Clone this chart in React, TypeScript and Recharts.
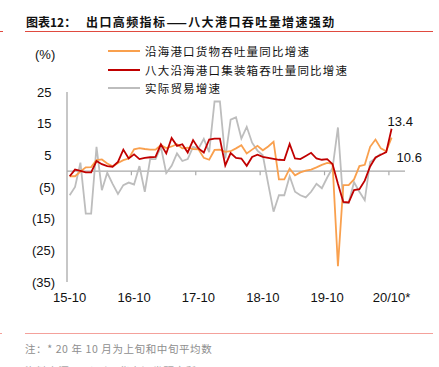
import React from 'react';
import { LineChart, Line, XAxis, YAxis, ReferenceLine, LabelList } from 'recharts';

const W = 439;
const H = 367;

// monthly, 2015-10 … 2020-10
const portCargo = [
  -1.6, -1.6, -0.1, 1.2, 1.3, 3.5, 3.7, 2.4, 1.5, 2.6, 3.5, 4.0,
  6.9, 7.3, 7.0, 6.8, 6.8, 8.2, 7.3, 7.8, 8.5, 7.2, 7.4, 7.0,
  6.9, 4.2, 3.6, 6.7, 6.8, 6.1, 6.3, 7.2, 8.2, 5.6, 6.8, 8.0,
  6.6, 7.8, 9.3, -2.6, -2.6, 0.8, -1.3, -0.4, 0.2, 0.5, 1.2, 2.0,
  2.6, 2.3, -30.0, -4.4, -4.4, -2.6, 1.6, 2.0, 7.7, 10.0, 7.2, 6.3,
  10.6,
];
const container8 = [
  -1.6, 0.5, 0.1, -0.4, -0.4, 3.2, 2.2, 1.6, 1.4, 2.9, 6.8, 4.0,
  5.3, 3.8, 4.2, 4.4, 4.5, 8.5, 5.6, 10.5, 8.0, 8.5, 5.9, 9.8,
  7.2, 5.9, 10.0, 10.3, 10.3, 1.8, 5.7, 4.2, 4.0, 1.7, 4.5, 5.2,
  4.5, 4.2, 3.9, 3.6, 3.5, 8.6, 4.0, 3.8, 4.8, 5.8, 4.0, 3.6,
  3.8, 2.2, -4.0, -9.7, -9.9, -6.0, -5.7, -3.0, 1.5, 4.3, 5.2, 6.0,
  13.4,
];
const realTrade: (number | null)[] = [
  -7.6, -5.0, 2.7, -13.4, -13.4, 7.7, -6.0, -0.5, -4.0, -7.2, -4.4, -3.6,
  -4.2, 1.6, -6.5, 3.8, 3.8, 7.7, -0.6, 1.7, 5.6, 3.2, 3.8, 7.7,
  7.1, 10.2, 6.0, 22.0, 22.0, 4.0, 16.3, 17.0, 10.3, 14.0, 9.0, 6.5,
  5.0, -4.0, -12.8, -7.6, -7.6, -1.6, -6.5, -7.6, -8.3, -6.5, -4.0, -5.4,
  -2.0, 1.0, 13.8, -10.0, -10.0, -3.5, -6.5, -9.2, 2.9, 4.1, 5.5, null,
  null,
];

const xTickValues = [0, 12, 24, 36, 48, 60];
const xTickLabels = ['15-10', '16-10', '17-10', '18-10', '19-10', '20/10*'];
const xTickMarks = [11.5, 23.5, 35.5, 47.5, 59.5];
const yTicks = [-35, -25, -15, -5, 5, 15, 25];

const seriesNames = {
  portCargo: '沿海港口货物吞吐量同比增速',
  container8: '八大沿海港口集装箱吞吐量同比增速',
  realTrade: '实际贸易增速',
};
const colors = { portCargo: '#F9A04E', container8: '#C00000', realTrade: '#BDBDBD' };

const data = portCargo.map((v, i) => ({
  i,
  portCargo: v,
  container8: container8[i],
  realTrade: realTrade[i],
}));
const lastIdx = data.length - 1;

const LAT = '"Liberation Sans", Arial, sans-serif';
const CJK = '"Noto Sans CJK SC", "Noto Sans", sans-serif';

const XTick = (props: any) => {
  const { x, y, payload } = props;
  const idx = xTickValues.indexOf(payload.value);
  return (
    <text x={x} y={y} dy={12} textAnchor="middle" fontSize={13} fontFamily={LAT} fill="#111">
      {xTickLabels[idx]}
    </text>
  );
};

const fmtY = (v: number) => (v < 0 ? `(${Math.abs(v)})` : `${v}`);

const YTick = (props: any) => {
  const { x, y, payload } = props;
  const v = payload.value as number;
  return (
    <text x={v < 0 ? x - 4 : x - 7.5} y={y} dy={4.5} textAnchor="end" fontSize={13} fontFamily={LAT} fill="#111">
      {fmtY(v)}
    </text>
  );
};

const endLabel = (dx: number, dy: number) => (p: any) => {
  if (p.index !== lastIdx) return null;
  return (
    <text x={p.x + dx} y={p.y + dy} fontSize={13} fontFamily={LAT} fill="#111" textAnchor="start">
      {Number(p.value).toFixed(1)}
    </text>
  );
};

const legendRows: { key: keyof typeof seriesNames; top: number }[] = [
  { key: 'portCargo', top: 50.7 },
  { key: 'container8', top: 69.5 },
  { key: 'realTrade', top: 88.3 },
];

export default function App() {
  return (
    <div style={{ position: 'absolute', left: 0, top: 0, width: W, height: H, background: '#fff', overflow: 'hidden' }}>
      {/* title */}
      <div style={{ position: 'absolute', left: 26, top: 14, fontFamily: CJK, fontSize: 12, fontWeight: 700, color: '#111', lineHeight: '16px', whiteSpace: 'nowrap' }}>
        图表12：
      </div>
      <div style={{ position: 'absolute', left: 86, top: 14, fontFamily: CJK, fontSize: 12, fontWeight: 700, color: '#111', lineHeight: '16px', letterSpacing: 1.4, whiteSpace: 'nowrap' }}>
        出口高频指标——八大港口吞吐量增速强劲
      </div>
      <div style={{ position: 'absolute', left: 25, top: 31, width: 408, height: 1, background: '#E04A3F' }} />
      <div style={{ position: 'absolute', left: 0, top: 31, width: 3, height: 1, background: '#E04A3F' }} />

      {/* unit */}
      <div style={{ position: 'absolute', left: 35, top: 47, fontFamily: LAT, fontSize: 13, color: '#111', lineHeight: '16px' }}>(%)</div>

      {/* legend */}
      {legendRows.map((r) => (
        <React.Fragment key={r.key}>
          <div style={{ position: 'absolute', left: 108, top: r.top - 1, width: 32, height: 2, background: colors[r.key] }} />
          <div style={{ position: 'absolute', left: 145, top: r.top - 8, fontFamily: CJK, fontSize: 11.5, letterSpacing: 1.2, color: '#111', lineHeight: '16px', whiteSpace: 'nowrap' }}>
            {seriesNames[r.key]}
          </div>
        </React.Fragment>
      ))}

      <div style={{ position: 'absolute', left: 0, top: 0 }}>
        <LineChart width={W} height={H} data={data} margin={{ top: 92, right: 34, bottom: 55, left: 0 }}>
          <XAxis
            dataKey="i"
            type="number"
            domain={[-0.5, 62.5]}
            ticks={xTickValues}
            interval={0}
            axisLine={false}
            tickLine={false}
            tick={<XTick />}
            height={30}
            allowDataOverflow
          />
          <YAxis
            type="number"
            domain={[-35, 25]}
            ticks={yTicks}
            interval={0}
            width={67}
            axisLine={{ stroke: '#A9A9A9', strokeWidth: 1.3 }}
            tickLine={false}
            tick={<YTick />}
            allowDataOverflow
          />
          <ReferenceLine y={0} stroke="#A9A9A9" strokeWidth={1.3} />
          {xTickMarks.map((t) => (
            <ReferenceLine key={t} segment={[{ x: t, y: 0 }, { x: t, y: -1.3 }]} stroke="#A9A9A9" strokeWidth={1.2} />
          ))}
          <Line type="linear" dataKey="realTrade" stroke={colors.realTrade} strokeWidth={1.8} dot={false} isAnimationActive={false} connectNulls={false} />
          <Line type="linear" dataKey="portCargo" stroke={colors.portCargo} strokeWidth={1.8} dot={false} isAnimationActive={false}>
            <LabelList dataKey="portCargo" content={endLabel(5, 24)} />
          </Line>
          <Line type="linear" dataKey="container8" stroke={colors.container8} strokeWidth={1.8} dot={false} isAnimationActive={false}>
            <LabelList dataKey="container8" content={endLabel(-4, -3)} />
          </Line>
        </LineChart>
      </div>

      {/* bottom rule + note */}
      <div style={{ position: 'absolute', left: 25, top: 332.5, width: 408, height: 1.5, background: '#F4A19B' }} />
      <div style={{ position: 'absolute', left: 0, top: 332.5, width: 2, height: 1.5, background: '#F4A19B' }} />
      <div style={{ position: 'absolute', left: 25, top: 341, fontFamily: CJK, fontSize: 10.5, letterSpacing: 0.6, color: '#8E8E8E', lineHeight: '16px', whiteSpace: 'nowrap' }}>
        注：* 20 年 10 月为上旬和中旬平均数
      </div>
      <div style={{ position: 'absolute', left: 25, top: 362.5, fontFamily: CJK, fontSize: 10.5, letterSpacing: 0.6, color: '#A8A8A8', lineHeight: '16px', whiteSpace: 'nowrap' }}>
        资料来源：Wind，华泰证券研究所
      </div>
    </div>
  );
}
